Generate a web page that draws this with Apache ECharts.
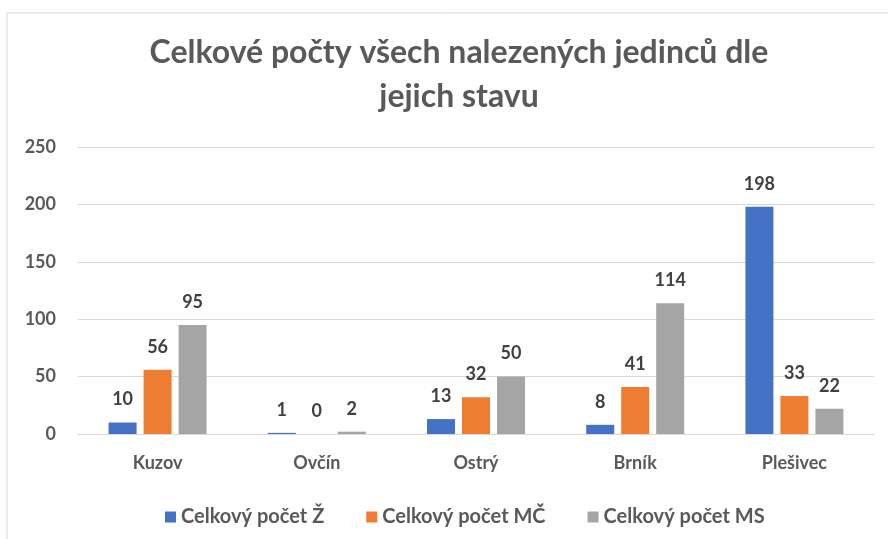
<!DOCTYPE html>
<html>
<head>
<meta charset="utf-8">
<script src="https://cdn.jsdelivr.net/npm/echarts@6/dist/echarts.min.js"></script>
<style>
  html, body { margin: 0; padding: 0; background: #fff; }
  #chart { width: 888px; height: 539px; }
</style>
</head>
<body>
<div id="chart"></div>
<script>
const categories = ['Kuzov', 'Ovčín', 'Ostrý', 'Brník', 'Plešivec']
const seriesNames = ['Celkový počet Ž', 'Celkový počet MČ', 'Celkový počet MS']
const countZ = [10, 1, 13, 8, 198]
const countMC = [56, 0, 32, 41, 33]
const countMS = [95, 2, 50, 114, 22]
const colors = ['#4472C4', '#ED7D31', '#A5A5A5']

const fontFamily = 'Lato, "Open Sans", sans-serif'
const chart = echarts.init(document.getElementById('chart'))

const makeSeries = (name, data, color) => ({
  name,
  type: 'bar',
  data,
  barWidth: 28,
  barGap: '25%',
  itemStyle: { color },
  label: {
    show: true,
    position: 'top',
    distance: 14,
    color: '#404040',
    fontFamily,
    fontWeight: 'bold',
    fontSize: 18
  }
})

chart.setOption({
  backgroundColor: '#fff',
  animation: false,
  color: colors,
  title: {
    text: 'Celkové počty všech nalezených jedinců dle\njejich stavu',
    left: 454,
    textAlign: 'center',
    top: 26,
    textStyle: {
      color: '#595959',
      fontFamily,
      fontWeight: 'bold',
      fontSize: 32,
      lineHeight: 44
    }
  },
  graphic: [
    { type: 'line', shape: { x1: 7, y1: 13, x2: 888, y2: 13 }, style: { stroke: '#d9d9d9', lineWidth: 1 } },
    { type: 'line', shape: { x1: 7, y1: 13, x2: 7, y2: 539 }, style: { stroke: '#d9d9d9', lineWidth: 1 } }
  ],
  legend: {
    top: 502,
    left: 160,
    itemWidth: 11,
    itemHeight: 11,
    itemGap: 42,
    icon: 'rect',
    textStyle: { color: '#595959', fontFamily, fontWeight: 'bold', fontSize: 20 }
  },
  grid: { left: 78, right: 14, top: 147, bottom: 105 },
  xAxis: {
    type: 'category',
    data: categories,
    axisTick: { show: false },
    axisLine: { lineStyle: { color: '#d9d9d9', width: 1 } },
    axisLabel: { color: '#595959', fontFamily, fontWeight: 'bold', fontSize: 18, margin: 20 }
  },
  yAxis: {
    type: 'value',
    min: 0,
    max: 250,
    interval: 50,
    axisLine: { show: false },
    axisTick: { show: false },
    splitLine: { lineStyle: { color: '#d9d9d9', width: 1 } },
    axisLabel: { color: '#595959', fontFamily, fontWeight: 'bold', fontSize: 18, margin: 22 }
  },
  series: [
    makeSeries(seriesNames[0], countZ, colors[0]),
    makeSeries(seriesNames[1], countMC, colors[1]),
    makeSeries(seriesNames[2], countMS, colors[2])
  ]
})
</script>
</body>
</html>
